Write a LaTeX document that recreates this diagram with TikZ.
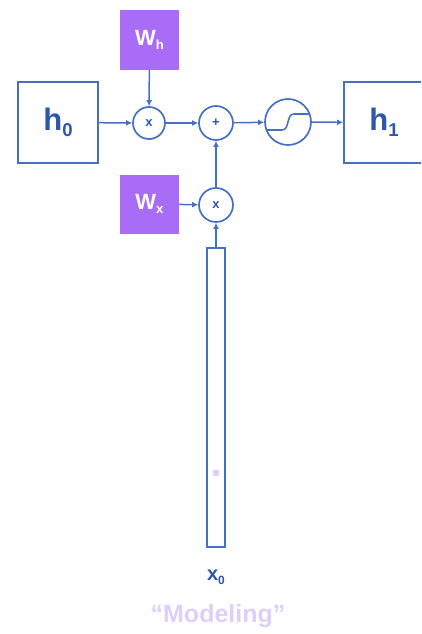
\documentclass[tikz,border=0pt]{standalone}
\usepackage{fontspec}
\setmainfont{Liberation Sans}
\usetikzlibrary{arrows.meta}
\definecolor{lineblue}{RGB}{70,112,196}
\definecolor{textblue}{RGB}{45,88,170}
\definecolor{wpurple}{RGB}{168,108,246}
\definecolor{lavender}{RGB}{222,206,251}
\newcommand{\mysub}[1]{\raisebox{-0.35ex}{\scalebox{0.6}{#1}}}
\tikzset{
  box/.style={draw=lineblue, line width=1.8pt, fill=white, inner sep=0pt, minimum width=80pt, minimum height=81pt, text=textblue, font=\fontsize{31}{32}\selectfont\bfseries},
  wbox/.style={fill=wpurple, inner sep=0pt, minimum width=59pt, minimum height=59pt, text=white, font=\fontsize{22}{24}\selectfont\bfseries},
  op/.style={draw=lineblue, line width=1.7pt, circle, inner sep=0pt, minimum size=#1, text=textblue, font=\fontsize{13}{14}\selectfont\bfseries},
  conn/.style={draw=lineblue, line width=1.5pt, -{Latex[length=6pt,width=6pt]}},
}
\begin{document}
\begin{tikzpicture}[x=1pt,y=-1pt]
\useasboundingbox (0,0) rectangle (421,634);
\clip (0,0) rectangle (421,634);
\node[box] (h0) at (58,122.5) {h\mysub{0}};
\node[box] (h1) at (384,122.5) {h\mysub{1}};
\node[wbox] (wh) at (149.5,40) {W\mysub{h}};
\node[wbox] (wx) at (149.5,204) {W\mysub{x}};
\node[op=32pt] (m1) at (149,123) {x};
\node[op=34pt] (pl) at (216,123) {+};
\node[op=46pt] (sg) at (288,122) {};
\node[op=34pt] (m2) at (216,205) {x};
\node[draw=lineblue, line width=1.6pt, inner sep=0pt, minimum width=18pt, minimum height=299pt] (xin) at (216,397.5) {};
\node[fill=lavender, inner sep=0pt, minimum size=6pt] (mark) at (216,473) {};
\node[text=textblue, font=\fontsize{20}{20}\selectfont\bfseries] (x0) at (216,577) {x\mysub{0}};
\node[text=lavender, font=\fontsize{25}{26}\selectfont\bfseries] (mod) at (218,616) {“Modeling”};
% sigmoid glyph
\draw[lineblue, line width=1.6pt] ([xshift=-21pt,yshift=-8pt]sg.center) -- ([xshift=-6pt,yshift=-8pt]sg.center)
  .. controls ([xshift=2pt,yshift=-8pt]sg.center) and ([xshift=-2pt,yshift=8pt]sg.center) .. ([xshift=6pt,yshift=8pt]sg.center)
  -- ([xshift=21pt,yshift=8pt]sg.center);
\draw[conn] (h0) -- (m1);
\draw[conn] (wh) -- (m1);
\draw[conn] (m1) -- (pl);
\draw[conn] (pl) -- (sg);
\draw[conn] (sg) -- (h1);
\draw[conn] (wx) -- (m2);
\draw[conn] (m2) -- (pl);
\draw[conn] (xin) -- (m2);
\end{tikzpicture}
\end{document}
